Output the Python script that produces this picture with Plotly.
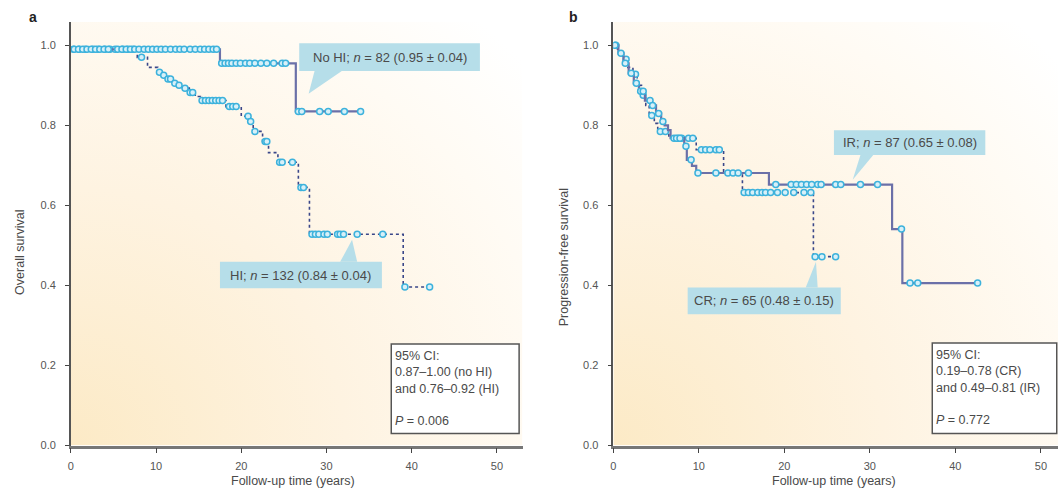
import base64
import plotly.graph_objects as go

# ---------------- data ----------------
# Panel a: overall survival
nohi_event_t = [0, 17.5, 26.4]
nohi_surv = [0.99, 0.955, 0.835]
nohi_end = 34.0
nohi_censor = [0.4, 0.9, 1.4, 1.9, 2.4, 2.9, 3.4, 3.9, 4.4, 5.5, 6.0, 6.5, 7.0, 7.5,
               8.0, 8.6, 9.1, 9.6, 10.1, 10.6, 11.1, 11.7, 12.3, 12.8, 13.3, 14.0,
               14.6, 15.2, 15.7, 16.2, 16.7, 17.1, 17.7, 18.1, 18.5, 18.9, 19.4,
               19.9, 20.5, 21.0, 21.6, 22.3, 23.0, 23.8, 24.8, 25.2, 26.7, 27.1,
               29.2, 30.2, 32.1, 34.0]

hi_event_t = [0, 7.8, 9.0, 10.2, 10.7, 11.1, 11.9, 12.5, 13.1, 13.9, 14.6, 15.2,
              18.2, 20.0, 20.9, 21.4, 22.5, 23.2, 24.3, 26.7, 28.0, 39.0]
hi_surv = [0.99, 0.97, 0.945, 0.933, 0.925, 0.916, 0.905, 0.9, 0.893, 0.882, 0.872,
           0.862, 0.847, 0.823, 0.81, 0.785, 0.76, 0.732, 0.708, 0.645, 0.528, 0.396]
hi_end = 42.1
hi_censor = [0.3, 1.0, 1.7, 2.6, 3.2, 4.0, 4.6, 5.2, 6.1, 6.7, 7.3, 8.3, 10.4, 10.9,
             11.4, 11.7, 12.2, 12.7, 13.4, 14.0, 14.3, 15.4, 15.8, 16.2, 16.6, 17.0,
             17.4, 17.8, 18.6, 19.0, 19.4, 20.8, 21.1, 21.6, 22.8, 23.0, 24.5, 24.8,
             26.0, 27.0, 27.3, 28.3, 28.7, 29.1, 29.7, 30.1, 31.3, 31.6, 32.0, 33.6,
             36.6, 39.2, 42.1]

# Panel b: progression-free survival
ir_event_t = [0, 0.6, 1.2, 1.8, 2.4, 3.0, 3.7, 4.4, 5.0, 5.6, 6.0, 6.4, 6.7, 8.3,
              8.6, 9.2, 9.7, 18.2, 32.6, 33.8]
ir_surv = [1.0, 0.98, 0.955, 0.93, 0.905, 0.885, 0.862, 0.85, 0.83, 0.81, 0.8,
           0.788, 0.768, 0.748, 0.714, 0.699, 0.681, 0.652, 0.541, 0.406]
ir_end = 42.6
ir_censor = [0.2, 0.9, 1.4, 2.1, 2.7, 3.2, 3.5, 4.3, 4.6, 5.3, 5.8, 7.1, 7.4, 7.8,
             8.5, 9.1, 9.9, 12.0, 13.4, 14.0, 14.6, 15.8, 19.0, 20.8, 21.4, 22.0,
             22.6, 23.2, 23.9, 24.3, 26.0, 26.6, 28.9, 30.9, 33.7, 34.7, 35.6, 42.6]

cr_event_t = [0, 0.5, 1.1, 1.7, 2.3, 2.8, 3.3, 3.8, 4.2, 4.8, 5.2, 6.5, 9.7, 12.9,
              15.1, 23.4]
cr_surv = [1.0, 0.985, 0.965, 0.945, 0.928, 0.9, 0.875, 0.85, 0.825, 0.805, 0.785,
           0.768, 0.739, 0.68, 0.632, 0.472]
cr_end = 26.0
cr_censor = [0.3, 1.5, 2.6, 3.5, 4.5, 5.5, 6.1, 7.6, 8.0, 8.8, 9.3, 10.3, 10.8,
             11.3, 12.0, 12.4, 15.3, 15.8, 16.3, 16.9, 17.4, 17.8, 18.4, 19.2,
             20.1, 21.1, 22.3, 23.1, 23.6, 24.4, 26.0]

x_ticks = [0, 10, 20, 30, 40, 50]
y_ticks = [0.0, 0.2, 0.4, 0.6, 0.8, 1.0]
y_ticktext = ["0.0", "0.2", "0.4", "0.6", "0.8", "1.0"]

# ---------------- styling ----------------
W, H = 1061, 498
FONT = "Liberation Sans Narrow, Liberation Sans, Arial"
LINE_SOLID = "#6B70A8"
LINE_DASH = "#3A4789"
MK_FILL = "#D8F0F8"
MK_EDGE = "#3DB2DC"
CALLOUT = "#B6DEE9"
TXT = "#4A4A4A"

XA_RANGE = [0, 53.0]
XB_RANGE = [0, 52.0]
Y_RANGE = [0, 1.059]


def surv_at(ts, ss, t):
    s = ss[0]
    for ti, si in zip(ts, ss):
        if ti <= t:
            s = si
    return s


fig = go.Figure()


def add_curve(ts, ss, end, censor, xa, ya, dashed):
    fig.add_trace(go.Scatter(
        x=list(ts) + [end], y=list(ss) + [ss[-1]], mode="lines",
        line=dict(shape="hv", color=LINE_DASH if dashed else LINE_SOLID,
                  width=1.6 if dashed else 2.2,
                  dash="3px,3px" if dashed else "solid"),
        xaxis=xa, yaxis=ya, hoverinfo="skip", showlegend=False))
    fig.add_trace(go.Scatter(
        x=censor, y=[surv_at(ts, ss, c) for c in censor], mode="markers",
        marker=dict(symbol="circle", size=6, color=MK_FILL,
                    line=dict(color=MK_EDGE, width=1.5)),
        xaxis=xa, yaxis=ya, showlegend=False))


add_curve(hi_event_t, hi_surv, hi_end, hi_censor, "x", "y", True)
add_curve(nohi_event_t, nohi_surv, nohi_end, nohi_censor, "x", "y", False)
add_curve(cr_event_t, cr_surv, cr_end, cr_censor, "x2", "y2", True)
add_curve(ir_event_t, ir_surv, ir_end, ir_censor, "x2", "y2", False)

# gradient background (bottom-left peach to top-right white)
svg = ('<svg xmlns="http://www.w3.org/2000/svg" viewBox="0 0 100 100" '
       'preserveAspectRatio="none" width="100" height="100"><defs>'
       '<radialGradient id="g" cx="0" cy="1" r="1.35" gradientUnits="objectBoundingBox">'
       '<stop offset="0" stop-color="#FCEAC6"/><stop offset="0.45" stop-color="#FEF3E1"/>'
       '<stop offset="0.8" stop-color="#FFFBF4"/><stop offset="1" stop-color="#FFFFFF"/>'
       '</radialGradient></defs><rect x="0" y="0" width="100" height="100" fill="url(#g)"/></svg>')
src = "data:image/svg+xml;base64," + base64.b64encode(svg.encode()).decode()
images = []
for xr, yr, rng in (("x", "y", XA_RANGE), ("x2", "y2", XB_RANGE)):
    images.append(dict(source=src, xref=xr, yref=yr, x=0, y=Y_RANGE[1],
                       sizex=rng[1], sizey=Y_RANGE[1], sizing="stretch",
                       xanchor="left", yanchor="top", layer="below"))

shapes = []
annotations = []


def callout(xr, yr, box, tri, text):
    x0, x1, y0, y1 = box
    shapes.append(dict(type="rect", xref=xr, yref=yr, x0=x0, x1=x1, y0=y0, y1=y1,
                       fillcolor=CALLOUT, line=dict(width=0), layer="above"))
    p = tri
    shapes.append(dict(type="path", xref=xr, yref=yr,
                       path=f"M {p[0][0]},{p[0][1]} L {p[1][0]},{p[1][1]} L {p[2][0]},{p[2][1]} Z",
                       fillcolor=CALLOUT, line=dict(width=0), layer="above"))
    annotations.append(dict(xref=xr, yref=yr, x=(x0 + x1) / 2, y=(y0 + y1) / 2,
                            xanchor="center", yanchor="middle",
                            text=text, showarrow=False,
                            font=dict(family=FONT, size=13, color=TXT)))


callout("x", "y", (26.8, 48.0, 0.936, 1.005),
        [(28.6, 0.936), (31.8, 0.936), (27.9, 0.879)],
        "No HI; <i>n</i> = 82 (0.95 ± 0.04)")
callout("x", "y", (17.5, 36.5, 0.393, 0.459),
        [(31.6, 0.459), (33.6, 0.459), (33.0, 0.514)],
        "HI; <i>n</i> = 132 (0.84 ± 0.04)")
callout("x2", "y2", (25.8, 43.5, 0.726, 0.788),
        [(28.9, 0.726), (30.4, 0.726), (28.0, 0.664)],
        "IR; <i>n</i> = 87 (0.65 ± 0.08)")
callout("x2", "y2", (8.7, 26.6, 0.328, 0.395),
        [(22.5, 0.395), (23.9, 0.395), (23.7, 0.459)],
        "CR; <i>n</i> = 65 (0.48 ± 0.15)")


def ci_box(xr, yr, box, text):
    x0, x1, y0, y1 = box
    shapes.append(dict(type="rect", xref=xr, yref=yr, x0=x0, x1=x1, y0=y0, y1=y1,
                       fillcolor="white", line=dict(color="#555555", width=1.5),
                       layer="above"))
    annotations.append(dict(xref=xr, yref=yr, x=x0 + 0.25, y=y1 - 0.008, text=text,
                            showarrow=False, xanchor="left", yanchor="top",
                            align="left",
                            font=dict(family=FONT, size=12.5, color=TXT)))


ci_box("x", "y", (37.6, 52.6, 0.03, 0.254),
       "95% CI:<br>0.87–1.00 (no HI)<br>and 0.76–0.92 (HI)<br> <br><i>P</i> = 0.006")
ci_box("x2", "y2", (37.3, 51.85, 0.03, 0.256),
       "95% CI:<br>0.19–0.78 (CR)<br>and 0.49–0.81 (IR)<br> <br><i>P</i> = 0.772")

# axis titles and panel letters
tf = dict(family=FONT, size=12.5, color=TXT)
annotations += [
    dict(xref="paper", yref="paper", x=17 / W, y=1 - 255 / H, text="Overall survival",
         textangle=-90, showarrow=False, xanchor="center", yanchor="middle", font=tf),
    dict(xref="paper", yref="paper", x=562 / W, y=1 - 260 / H,
         text="Progression-free survival", textangle=-90, showarrow=False,
         xanchor="center", yanchor="middle", font=tf),
    dict(xref="paper", yref="paper", x=291 / W, y=1 - 487 / H,
         text="Follow-up time (years)", showarrow=False,
         xanchor="center", yanchor="middle", font=tf),
    dict(xref="paper", yref="paper", x=833 / W, y=1 - 487 / H,
         text="Follow-up time (years)", showarrow=False,
         xanchor="center", yanchor="middle", font=tf),
    dict(xref="paper", yref="paper", x=30 / W, y=1 - 17 / H, text="<b>a</b>",
         showarrow=False, xanchor="center", yanchor="middle",
         font=dict(family="Liberation Sans, Arial", size=14, color="#222")),
    dict(xref="paper", yref="paper", x=572 / W, y=1 - 17 / H, text="<b>b</b>",
         showarrow=False, xanchor="center", yanchor="middle",
         font=dict(family="Liberation Sans, Arial", size=14, color="#222")),
]

tickfont = dict(family=FONT, size=11, color="#555")
xcommon = dict(tickvals=x_ticks, ticks="outside", ticklen=5, tickwidth=1,
               tickcolor="#444", showline=True, linecolor="#777", linewidth=2.5,
               showgrid=False, zeroline=False, tickfont=tickfont, fixedrange=True,
               ticklabelstandoff=3)
ycommon = dict(range=Y_RANGE, tickvals=y_ticks, ticktext=y_ticktext, ticks="outside",
               ticklen=4, tickwidth=1, tickcolor="#444", showline=True,
               linecolor="#555", linewidth=1.5, showgrid=False, zeroline=False,
               tickfont=tickfont, fixedrange=True, ticklabelstandoff=7)

ydom = [(H - 451) / H, (H - 22) / H]
fig.update_layout(
    width=W, height=H, autosize=False,
    margin=dict(l=0, r=0, t=0, b=0),
    paper_bgcolor="white", plot_bgcolor="rgba(0,0,0,0)",
    showlegend=False, hovermode=False,
    xaxis={**xcommon, "range": XA_RANGE, "domain": [68 / W, 521 / W], "anchor": "y"},
    yaxis={**ycommon, "domain": ydom, "anchor": "x"},
    xaxis2={**xcommon, "range": XB_RANGE, "domain": [612 / W, 1058 / W], "anchor": "y2"},
    yaxis2={**ycommon, "domain": ydom, "anchor": "x2"},
    images=images, shapes=shapes, annotations=annotations,
)

fig.write_html("out.html", config={"displayModeBar": False},
               post_script="document.body.style.margin='0';document.body.style.overflow='hidden';")
